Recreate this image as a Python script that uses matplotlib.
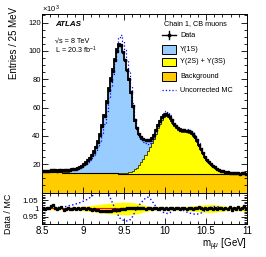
import numpy as np
import matplotlib.pyplot as plt
from matplotlib.patches import Rectangle
from matplotlib.ticker import MultipleLocator

plt.rcParams['font.family'] = ['Liberation Sans', 'DejaVu Sans']
plt.rcParams['mathtext.fontset'] = 'custom'
plt.rcParams['mathtext.rm'] = 'Liberation Sans'
plt.rcParams['mathtext.it'] = 'Liberation Sans:italic'

# binning: 25 MeV bins between 8.5 and 11 GeV
m_lo, m_hi, n_bins = 8.5, 11.0, 100

# fitted total (x10^3 entries / 25 MeV)
fit_total = [15.30, 15.34, 15.38, 15.42, 15.46, 15.50, 15.54, 15.58, 15.63, 15.69,
             15.76, 15.85, 15.96, 16.10, 16.28, 16.55, 16.90, 17.40, 18.10, 19.00,
             20.00, 21.20, 22.60, 24.30, 26.40, 29.00, 32.30, 36.40, 41.40, 47.60,
             55.00, 64.50, 73.50, 80.50, 87.00, 94.50, 101.0, 104.5, 104.3, 99.50,
             93.50, 86.50, 79.50, 70.50, 60.50, 50.80, 45.20, 41.30, 39.00, 37.80,
             37.20, 36.90, 37.20, 38.40, 40.50, 43.80, 47.50, 50.50, 53.00, 54.80,
             55.60, 55.00, 53.20, 50.80, 48.50, 46.60, 45.30, 44.50, 44.00, 43.80,
             43.60, 43.30, 42.60, 41.20, 39.20, 36.60, 33.60, 30.60, 27.80, 25.30,
             23.20, 21.50, 20.00, 18.80, 17.70, 16.80, 16.00, 15.40, 14.90, 14.50,
             14.20, 14.00, 13.80, 13.70, 13.60, 13.50, 13.40, 13.40, 13.30, 13.30]

# Upsilon(2S)+Upsilon(3S) component
ups23 = [0.05, 0.05, 0.05, 0.05, 0.06, 0.06, 0.06, 0.07, 0.07, 0.07,
         0.08, 0.08, 0.08, 0.09, 0.09, 0.10, 0.10, 0.11, 0.11, 0.12,
         0.12, 0.13, 0.14, 0.14, 0.15, 0.16, 0.17, 0.18, 0.19, 0.20,
         0.22, 0.23, 0.25, 0.27, 0.29, 0.31, 0.34, 0.37, 0.40, 0.44,
         0.50, 0.70, 1.00, 1.50, 2.10, 3.00, 4.30, 6.00, 8.00, 10.4,
         13.0, 15.8, 18.8, 21.9, 25.0, 28.5, 32.3, 35.4, 38.0, 40.0,
         40.9, 40.4, 38.6, 36.3, 34.0, 32.2, 31.0, 30.2, 29.8, 29.6,
         29.5, 29.3, 28.6, 27.3, 25.3, 22.8, 19.9, 16.9, 14.2, 11.7,
         9.70, 8.00, 6.60, 5.40, 4.30, 3.50, 2.70, 2.10, 1.60, 1.30,
         1.00, 0.80, 0.65, 0.55, 0.48, 0.40, 0.33, 0.30, 0.27, 0.24]

# background
bkg = [14.40, 14.37, 14.34, 14.31, 14.28, 14.25, 14.22, 14.19, 14.16, 14.13,
       14.10, 14.07, 14.04, 14.01, 13.98, 13.95, 13.92, 13.90, 13.87, 13.84,
       13.81, 13.79, 13.76, 13.73, 13.71, 13.68, 13.66, 13.63, 13.61, 13.58,
       13.56, 13.54, 13.51, 13.49, 13.47, 13.45, 13.43, 13.41, 13.39, 13.37,
       13.35, 13.33, 13.31, 13.29, 13.27, 13.25, 13.24, 13.22, 13.20, 13.19,
       13.17, 13.16, 13.14, 13.13, 13.11, 13.10, 13.09, 13.07, 13.06, 13.05,
       13.04, 13.03, 13.02, 13.01, 13.00, 12.99, 12.98, 12.97, 12.96, 12.95,
       12.94, 12.93, 12.93, 12.92, 12.91, 12.90, 12.90, 12.89, 12.88, 12.88,
       12.87, 12.87, 12.86, 12.86, 12.85, 12.85, 12.84, 12.84, 12.83, 12.83,
       12.83, 12.82, 12.82, 12.82, 12.81, 12.81, 12.81, 12.80, 12.80, 12.80]

# data / MC
ratio_data = [1.002, 0.998, 1.004, 1.000, 1.012, 1.020, 1.004, 0.996, 1.001, 1.006,
              0.992, 0.996, 1.003, 0.995, 0.999, 1.004, 0.997, 1.001, 0.995, 1.000,
              1.003, 0.998, 1.002, 0.997, 0.993, 0.996, 0.991, 0.988, 0.986, 0.984,
              0.983, 0.985, 0.984, 0.987, 0.989, 0.992, 0.990, 0.993, 0.995, 0.997,
              0.999, 1.002, 1.004, 1.003, 1.005, 1.002, 1.004, 1.001, 1.003, 1.000,
              0.998, 1.001, 1.000, 0.999, 1.002, 1.000, 0.998, 1.001, 1.000, 0.999,
              1.001, 0.999, 1.000, 1.002, 0.998, 1.000, 1.001, 0.999, 1.002, 1.000,
              0.999, 1.001, 1.003, 0.998, 1.001, 1.004, 1.006, 1.002, 0.999, 1.001,
              0.997, 1.002, 1.000, 0.996, 1.003, 0.999, 1.004, 1.001, 0.995, 1.002,
              0.998, 1.006, 0.993, 1.004, 0.997, 1.009, 0.994, 1.002, 1.012, 0.996]

# data / uncorrected MC
ratio_uncorr = [1.000, 1.002, 1.001, 1.003, 1.004, 1.003, 1.005, 1.006, 1.007, 1.008,
                1.010, 1.012, 1.014, 1.017, 1.020, 1.023, 1.027, 1.031, 1.035, 1.040,
                1.045, 1.051, 1.058, 1.066, 1.075, 1.085, 1.095, 1.105, 1.115, 1.120,
                1.118, 1.105, 1.085, 1.058, 1.030, 1.003, 0.978, 0.950, 0.935, 0.930,
                0.928, 0.925, 0.927, 0.938, 0.958, 0.985, 1.005, 1.022, 1.036, 1.050,
                1.062, 1.068, 1.063, 1.048, 1.030, 1.013, 1.000, 0.990, 0.981, 0.975,
                0.971, 0.970, 0.975, 0.984, 0.993, 0.999, 1.000, 0.996, 0.991, 0.985,
                0.979, 0.975, 0.971, 0.968, 0.966, 0.966, 0.968, 0.972, 0.979, 0.987,
                0.996, 1.003, 1.008, 1.011, 1.012, 1.011, 1.008, 1.005, 1.003, 1.001,
                1.000, 0.999, 1.000, 1.001, 1.000, 0.999, 1.000, 1.001, 1.000, 1.000]

# MC uncertainty band (half width)
band = [0.007, 0.007, 0.007, 0.007, 0.007, 0.007, 0.007, 0.007, 0.007, 0.007,
        0.007, 0.007, 0.008, 0.008, 0.008, 0.009, 0.010, 0.011, 0.012, 0.013,
        0.014, 0.015, 0.017, 0.018, 0.020, 0.021, 0.023, 0.024, 0.026, 0.027,
        0.028, 0.030, 0.031, 0.032, 0.033, 0.034, 0.035, 0.036, 0.037, 0.038,
        0.038, 0.038, 0.037, 0.036, 0.035, 0.033, 0.031, 0.028, 0.025, 0.022,
        0.019, 0.016, 0.013, 0.011, 0.010, 0.009, 0.009, 0.009, 0.009, 0.009,
        0.009, 0.009, 0.009, 0.009, 0.009, 0.009, 0.010, 0.010, 0.011, 0.012,
        0.013, 0.014, 0.015, 0.016, 0.018, 0.019, 0.020, 0.021, 0.022, 0.023,
        0.023, 0.024, 0.024, 0.023, 0.022, 0.021, 0.020, 0.018, 0.016, 0.014,
        0.012, 0.011, 0.011, 0.011, 0.012, 0.013, 0.014, 0.015, 0.016, 0.017]

x_ticks = [8.5, 9, 9.5, 10, 10.5, 11]
x_ticklabels = ['8.5', '9', '9.5', '10', '10.5', '11']
y_ticks = [20, 40, 60, 80, 100, 120]
r_ticks = [0.95, 1.0, 1.05]
r_ticklabels = ['0.95', '1', '1.05']

edges = np.linspace(m_lo, m_hi, n_bins + 1)
centers = 0.5 * (edges[1:] + edges[:-1])
fit_total = np.array(fit_total)
bkg = np.array(bkg)
ups23 = np.array(ups23)
ratio_data = np.array(ratio_data)
ratio_uncorr = np.array(ratio_uncorr)
band = np.array(band)
data = fit_total * ratio_data
uncorr = data / ratio_uncorr

W, H = 266, 257
fig = plt.figure(figsize=(W / 100, H / 100), dpi=100)
ax = fig.add_axes([42 / W, 1 - 192.5 / H, 205 / W, 178.5 / H])
rax = fig.add_axes([42 / W, 1 - 224.3 / H, 205 / W, 31.8 / H])

# main panel
ax.stairs(bkg, edges, baseline=0, fill=True, color='#ffcc00', lw=0)
ax.stairs(bkg + ups23, edges, baseline=bkg, fill=True, color='#ffff00', lw=0)
ax.stairs(fit_total, edges, baseline=bkg + ups23, fill=True, color='#99ccff', lw=0)
ax.stairs(bkg, edges, baseline=None, color='k', lw=0.8)
ax.stairs(bkg + ups23, edges, baseline=None, color='k', lw=0.5)
ax.stairs(uncorr, edges, baseline=None, color='blue', ls=':', lw=0.9)
ax.stairs(fit_total, edges, baseline=None, color='k', lw=1.3)
ax.plot(centers, data, 's', color='k', ms=1.6)

ax.set_xlim(m_lo, m_hi)
ax.set_ylim(0, 126)
ax.set_yticks(y_ticks)
ax.yaxis.set_minor_locator(MultipleLocator(5))
ax.xaxis.set_major_locator(MultipleLocator(0.5))
ax.xaxis.set_minor_locator(MultipleLocator(0.1))
ax.tick_params(axis='x', labelbottom=False)
ax.tick_params(which='both', direction='in', top=True, right=True, width=0.6)
ax.tick_params(which='major', length=4)
ax.tick_params(which='minor', length=2)
ax.tick_params(axis='y', labelsize=5.5, pad=1)
for s in ax.spines.values():
    s.set_linewidth(0.7)

# ratio panel
rax.fill_between(centers, 1 - band, 1 + band, color='#ffff00', lw=0)
rax.axhline(1, color='red', lw=0.8)
rax.plot(centers, ratio_uncorr, color='blue', ls=':', lw=1.0)
rax.plot(centers, ratio_data, color='k', lw=0.9, marker='s', ms=1.4)
rax.set_xlim(m_lo, m_hi)
rax.set_ylim(0.905, 1.096)
rax.set_xticks(x_ticks)
rax.set_xticklabels(x_ticklabels)
rax.set_yticks(r_ticks)
rax.set_yticklabels(r_ticklabels)
rax.xaxis.set_minor_locator(MultipleLocator(0.1))
rax.yaxis.set_minor_locator(MultipleLocator(0.01))
rax.tick_params(which='both', direction='in', top=True, right=True, width=0.6)
rax.tick_params(which='major', length=4)
rax.tick_params(which='minor', length=2)
rax.tick_params(axis='x', labelsize=7, pad=1.5)
rax.tick_params(axis='y', labelsize=5.8, pad=2.5)
for s in rax.spines.values():
    s.set_linewidth(0.7)

# axis titles
fig.text(14 / W, 1 - 7 / H, 'Entries / 25 MeV', rotation=90, ha='center', va='top', fontsize=7)
fig.text(8.5 / W, 1 - 214 / H, 'Data / MC', rotation=90, ha='center', va='center', fontsize=6.4)
fig.text(247 / W, 1 - 245 / H, r'm$_{\mu\mu}$ [GeV]', ha='right', va='center', fontsize=7)
fig.text(42 / W, 1 - 9.5 / H, r'$\times10^{3}$', ha='left', va='center', fontsize=5.5)

# labels
ax.text(0.063, 0.941, 'ATLAS', transform=ax.transAxes, fontsize=5.8,
        fontweight='bold', fontstyle='italic', va='center')
ax.text(0.063, 0.848, '\u221as = 8 TeV', transform=ax.transAxes, fontsize=5.2, va='center')
ax.text(0.063, 0.795, r'L = 20.3 fb$^{-1}$', transform=ax.transAxes, fontsize=5.2, va='center')

# legend
lx0, lx1, tx = 0.587, 0.655, 0.673
ax.text(0.593, 0.944, 'Chain 1, CB muons', transform=ax.transAxes, fontsize=5.2, va='center')
ax.plot([lx0, lx1], [0.882, 0.882], color='k', lw=1.0, transform=ax.transAxes)
ax.plot([0.621, 0.621], [0.860, 0.904], color='k', lw=1.0, transform=ax.transAxes)
ax.plot([0.621], [0.882], 's', color='k', ms=2, transform=ax.transAxes)
ax.text(tx, 0.882, 'Data', transform=ax.transAxes, fontsize=5.2, va='center')
leg_rows = [('#99ccff', 'Υ(1S)', 0.800), ('#ffff00', 'Υ(2S) + Υ(3S)', 0.732),
            ('#ffcc00', 'Background', 0.651)]
for col, lab, yy in leg_rows:
    ax.add_patch(Rectangle((lx0, yy - 0.024), lx1 - lx0, 0.048, transform=ax.transAxes,
                           facecolor=col, edgecolor='k', lw=0.7))
    ax.text(tx, yy, lab, transform=ax.transAxes, fontsize=5.2, va='center')
ax.plot([lx0, lx1], [0.574, 0.574], color='blue', ls=':', lw=0.9, transform=ax.transAxes)
ax.text(tx, 0.574, 'Uncorrected MC', transform=ax.transAxes, fontsize=5.2, va='center')

fig.savefig('out.png', dpi=100)
